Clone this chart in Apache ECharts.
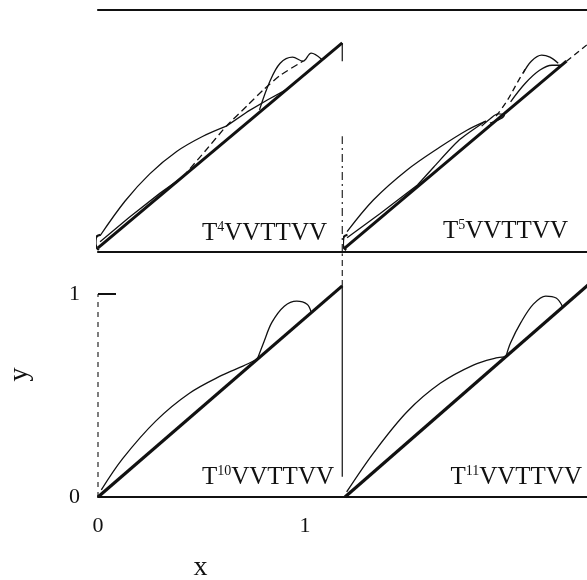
<!DOCTYPE html>
<html>
<head>
<meta charset="utf-8">
<script src="https://cdn.jsdelivr.net/npm/echarts@6/dist/echarts.min.js"></script>
<style>
  html, body { margin: 0; padding: 0; background: #fff; }
  #chart { width: 587px; height: 580px; }
</style>
</head>
<body>
<div id="chart"></div>
<script>
// Panel titles (sequence names) and their exponents
const panelBase = ['T', 'T', 'T', 'T'];
const panelPower = ['4', '5', '10', '11'];
const panelTail = ['VVTTVV', 'VVTTVV', 'VVTTVV', 'VVTTVV'];

// Tick labels of the lower-left panel
const xTicks = [0, 1];
const yTicks = [0, 1];

// Panel T^4 VVTTVV (upper left): [x, y] points
const diagTL = [[0, 0.02], [1.18, 1.03]];
const hookTL = [[0.012, 0.085], [-0.01, 0.07], [-0.012, 0.04], [0.004, 0.01]];
const arcTL = [[0.01, 0.08], [0.13, 0.25], [0.25, 0.385], [0.38, 0.495], [0.507, 0.57], [0.62, 0.62]];
const lensTL = [[0.01, 0.05], [0.15, 0.17], [0.30, 0.29], [0.41, 0.37]];
const riseTL = [[0.41, 0.37], [0.52, 0.50], [0.62, 0.62], [0.72, 0.72], [0.80, 0.80], [0.88, 0.87], [0.99, 0.94]];
const lowerTL = [[0.62, 0.62], [0.72, 0.69], [0.82, 0.75], [0.91, 0.80]];
const bumpTL = [[0.78, 0.70], [0.83, 0.84], [0.88, 0.93], [0.94, 0.96], [0.99, 0.94], [1.03, 0.98], [1.08, 0.95]];

// Panel T^5 VVTTVV (upper right)
const diagTR = [[0, 0.02], [1.07, 0.94]];
const tailTR = [[1.07, 0.94], [1.18, 1.03]];
const hookTR = [[0.012, 0.085], [-0.008, 0.07], [-0.01, 0.035], [0.006, 0.01]];
const arcTR = [[0.01, 0.10], [0.137, 0.256], [0.30, 0.404], [0.459, 0.517], [0.589, 0.60], [0.68, 0.645]];
const lensTR = [[0.01, 0.07], [0.17, 0.19], [0.35, 0.33]];
const innerTR = [[0.35, 0.33], [0.43, 0.42], [0.55, 0.55], [0.68, 0.645]];
const loopTR = [[0.66, 0.62], [0.70, 0.655], [0.74, 0.68], [0.77, 0.675], [0.75, 0.655], [0.70, 0.635]];
const riseTR = [[0.73, 0.67], [0.78, 0.74], [0.83, 0.83], [0.87, 0.90]];
const bumpOuterTR = [[0.86, 0.88], [0.90, 0.94], [0.95, 0.97], [0.99, 0.96], [1.03, 0.93]];
const bumpInnerTR = [[0.80, 0.74], [0.87, 0.83], [0.94, 0.895], [1.00, 0.92], [1.05, 0.92]];

// Panel T^10 VVTTVV (lower left)
const diagBL = [[0, 0], [1.18, 1.04]];
const arcBL = [[0.016, 0.035], [0.12, 0.19], [0.28, 0.375], [0.44, 0.51], [0.60, 0.60], [0.70, 0.645], [0.77, 0.68]];
const bumpBL = [[0.77, 0.68], [0.80, 0.76], [0.84, 0.86], [0.90, 0.94], [0.96, 0.965], [1.01, 0.95], [1.03, 0.91]];

// Panel T^11 VVTTVV (lower right)
const diagBR = [[0, 0], [1.18, 1.05]];
const arcBR = [[0.008, 0.025], [0.14, 0.22], [0.30, 0.42], [0.46, 0.56], [0.62, 0.65], [0.73, 0.685], [0.77, 0.69]];
const bumpBR = [[0.78, 0.70], [0.80, 0.76], [0.85, 0.86], [0.91, 0.95], [0.97, 0.99], [1.02, 0.98], [1.05, 0.94]];

// Frame pieces: left axis and the divider between left and right panels
const yAxisLineBL = [[0, 0], [0, 1]];
const dividerTop = [[1.18, 0.94], [1.18, 1.03]];
const dividerTL = [[1.18, 0], [1.18, 0.57]];
const dividerBLsolid = [[1.18, 0.1], [1.18, 1.04]];
const dividerBLdash = [[1.18, 1.04], [1.18, 1.2]];

const INK = '#111';
const SERIF = '"Liberation Serif", "DejaVu Serif", serif';

const chart = echarts.init(document.getElementById('chart'), null, { renderer: 'canvas' });

const XMAX = 247 / 207;
const grids = [
  { left: 98, top: 10, width: 247, height: 242, outerBoundsMode: 'none' },
  { left: 345, top: 10, width: 247, height: 242, outerBoundsMode: 'none' },
  { left: 98, top: 252, width: 247, height: 245, outerBoundsMode: 'none' },
  { left: 345, top: 252, width: 247, height: 245, outerBoundsMode: 'none' }
];

const xAxes = [];
const yAxes = [];
grids.forEach((g, i) => {
  const isBL = i === 2;
  xAxes.push({
    type: 'value', gridIndex: i, min: 0, max: XMAX, position: 'bottom',
    axisLine: { show: true, onZero: false, lineStyle: { color: INK, width: 2.2 } },
    axisTick: { show: false },
    splitLine: { show: false },
    axisLabel: isBL ? {
      show: true, customValues: xTicks, margin: 18,
      color: INK, fontSize: 22, fontFamily: SERIF
    } : { show: false },
    name: isBL ? 'x' : '',
    nameLocation: 'middle', nameGap: 57,
    nameTextStyle: { color: INK, fontSize: 28, fontFamily: SERIF, padding: [0, 42, 0, 0] }
  });
  yAxes.push({
    type: 'value', gridIndex: i, min: 0, max: (g.height / 203),
    axisLine: { show: false },
    axisTick: isBL ? {
      show: true, inside: true, length: 18, customValues: [1],
      lineStyle: { color: INK, width: 2 }
    } : { show: false },
    splitLine: { show: false },
    axisLabel: isBL ? {
      show: true, customValues: yTicks, margin: 18,
      color: INK, fontSize: 22, fontFamily: SERIF
    } : { show: false },
    name: isBL ? 'y' : '',
    nameLocation: 'middle', nameRotate: 90, nameGap: 64,
    nameTextStyle: { color: INK, fontSize: 28, fontFamily: SERIF }
  });
});
// Top border of the upper panels
[0, 1].forEach(i => {
  xAxes.push({
    type: 'value', gridIndex: i, min: 0, max: XMAX, position: 'top',
    axisLine: { show: true, onZero: false, lineStyle: { color: INK, width: 2.2 } },
    axisTick: { show: false }, axisLabel: { show: false }, splitLine: { show: false }
  });
});

function curve(data, grid, opts) {
  opts = opts || {};
  return {
    type: 'line', xAxisIndex: grid, yAxisIndex: grid, data: data,
    showSymbol: false, smooth: opts.smooth === undefined ? 0.35 : opts.smooth,
    silent: true, animation: false, z: opts.z || 2, clip: opts.clip !== false,
    lineStyle: { color: INK, width: opts.width || 1.3, type: opts.type || 'solid' }
  };
}

const series = [
  // upper left
  curve(diagTL, 0, { width: 3, smooth: false, z: 3 }),
  curve(hookTL, 0, { width: 2.2, smooth: 0.5, clip: false }),
  curve(arcTL, 0),
  curve(lensTL, 0, { smooth: false }),
  curve(riseTL, 0, { type: [7, 4], smooth: 0.2 }),
  curve(lowerTL, 0, { smooth: false }),
  curve(bumpTL, 0),
  curve(dividerTop, 0, { smooth: false, width: 1.2 }),
  curve(dividerTL, 0, { smooth: false, width: 1.1, type: [8, 4, 2, 4] }),
  // upper right
  curve(diagTR, 1, { width: 3, smooth: false, z: 3 }),
  curve(tailTR, 1, { smooth: false, type: [6, 4] }),
  curve(hookTR, 1, { width: 2.2, smooth: 0.5, clip: false }),
  curve(arcTR, 1),
  curve(lensTR, 1, { smooth: false }),
  curve(innerTR, 1, { smooth: 0.2 }),
  curve(loopTR, 1),
  curve(riseTR, 1, { type: [6, 4] }),
  curve(bumpOuterTR, 1),
  curve(bumpInnerTR, 1),
  // lower left
  curve(diagBL, 2, { width: 3.2, smooth: false, z: 3 }),
  curve(arcBL, 2),
  curve(bumpBL, 2),
  curve(yAxisLineBL, 2, { smooth: false, width: 1.1, type: [5, 5] }),
  curve(dividerBLsolid, 2, { smooth: false, width: 1.2 }),
  curve(dividerBLdash, 2, { smooth: false, width: 1.1, type: [6, 4] }),
  // lower right
  curve(diagBR, 3, { width: 3.2, smooth: false, z: 3 }),
  curve(arcBR, 3),
  curve(bumpBR, 3)
];

// Sequence name in the lower right corner of each panel
const titleRight = [260, 19, 253, 5];
const titleTop = [220, 218, 464, 464];
const titles = panelBase.map((b, i) => ({
  text: '{a|' + b + '}{s|' + panelPower[i] + '}{a|' + panelTail[i] + '}',
  right: titleRight[i], top: titleTop[i], padding: 0,
  textStyle: {
    fontWeight: 'normal',
    rich: {
      a: { fontFamily: SERIF, fontSize: 25, fontWeight: 'normal', color: INK, lineHeight: 26 },
      s: { fontFamily: SERIF, fontSize: 14, fontWeight: 'normal', color: INK, lineHeight: 16, verticalAlign: 'top' }
    }
  }
}));

chart.setOption({
  backgroundColor: '#fff',
  animation: false,
  title: titles,
  grid: grids,
  xAxis: xAxes,
  yAxis: yAxes,
  series: series
});
</script>
</body>
</html>
